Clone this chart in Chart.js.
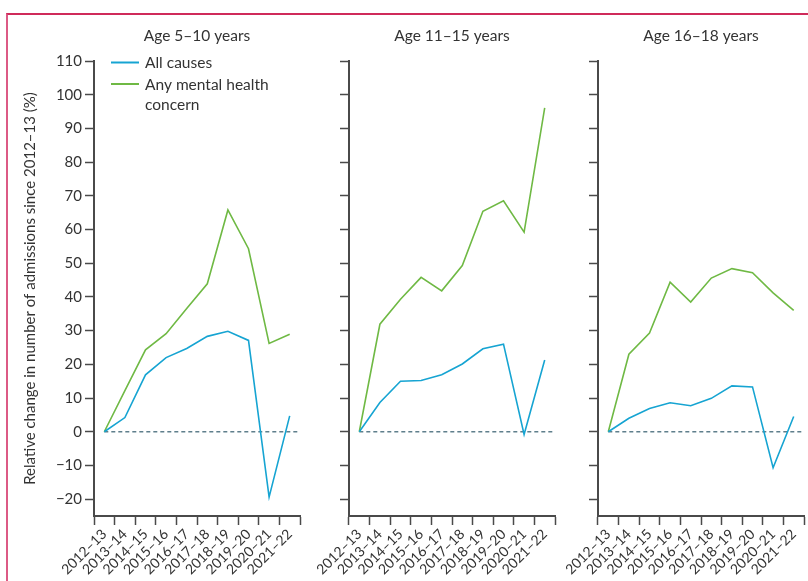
<!DOCTYPE html>
<html>
<head>
<meta charset="utf-8">
<script src="https://cdn.jsdelivr.net/npm/chart.js@4.4.0/dist/chart.umd.min.js"></script>
<style>
  html, body { margin: 0; padding: 0; background: #fff; overflow: hidden; }
  #wrap { position: relative; width: 808px; height: 581px; overflow: hidden; }
  #frame { position: absolute; left: 6px; top: 13px; width: 900px; height: 900px;
           border-top: 2px solid #cf2a5a; border-left: 2px solid #dc5a85; }
  canvas { position: absolute; top: 0; }
</style>
</head>
<body>
<div id="wrap">
  <div id="frame"></div>
  <canvas id="p1" width="320" height="581" style="left:0px"></canvas>
  <canvas id="p2" width="280" height="581" style="left:290px"></canvas>
  <canvas id="p3" width="280" height="581" style="left:545px"></canvas>
</div>
<script>
'use strict';

const years = ['2012–13', '2013–14', '2014–15', '2015–16', '2016–17',
               '2017–18', '2018–19', '2019–20', '2020–21', '2021–22'];
const panelTitles = ['Age 5–10 years', 'Age 11–15 years', 'Age 16–18 years'];
const seriesNames = ['All causes', 'Any mental health concern'];
const yTitle = 'Relative change in number of admissions since 2012–13 (%)';

// relative change (%)
const allCauses5to10 = [0, 4.2, 16.9, 22.0, 24.7, 28.3, 29.8, 27.1, -19.4, 4.7];
const mental5to10    = [0, 12.2, 24.3, 29.1, 36.6, 43.9, 65.8, 54.3, 26.2, 28.9];
const allCauses11to15 = [0, 8.7, 15.0, 15.2, 16.9, 20.1, 24.6, 26.0, -0.8, 21.3];
const mental11to15    = [0, 31.9, 39.3, 45.8, 41.8, 49.3, 65.4, 68.5, 59.2, 96.1];
const allCauses16to18 = [0, 4.0, 6.9, 8.6, 7.7, 9.9, 13.6, 13.3, -10.7, 4.5];
const mental16to18    = [0, 23.0, 29.3, 44.4, 38.5, 45.6, 48.4, 47.2, 41.2, 36.0];

const BLUE = '#16a4d2';
const GREEN = '#6fb944';
const AXIS = '#4a4a4a';
const TEXT = '#333333';
const FONT = 'Lato, "Open Sans", sans-serif';

// panel title centred over the plot area
const panelTitle = {
  id: 'panelTitle',
  afterDraw(chart, args, opts) {
    const ctx = chart.ctx, area = chart.chartArea;
    ctx.save();
    ctx.font = '15.5px ' + FONT;
    ctx.fillStyle = TEXT;
    ctx.textAlign = 'center';
    ctx.textBaseline = 'alphabetic';
    ctx.fillText(opts.text, (area.left + area.right) / 2, 41);
    ctx.restore();
  }
};

// dashed zero reference line
const zeroLine = {
  id: 'zeroLine',
  beforeDatasetsDraw(chart) {
    const ctx = chart.ctx, x = chart.scales.x, y = chart.scales.y;
    const py = y.getPixelForValue(0);
    ctx.save();
    ctx.strokeStyle = '#5f7f8c';
    ctx.lineWidth = 1.5;
    ctx.setLineDash([4, 3]);
    ctx.beginPath();
    ctx.moveTo(x.getPixelForValue(0), py);
    ctx.lineTo(chart.chartArea.right - 2, py);
    ctx.stroke();
    ctx.restore();
  }
};

// legend drawn inside the first panel, wrapping long labels
const innerLegend = {
  id: 'innerLegend',
  afterDraw(chart, args, opts) {
    if (!opts.show) return;
    const ctx = chart.ctx;
    ctx.save();
    ctx.font = '15.5px ' + FONT;
    ctx.textBaseline = 'alphabetic';
    let y = 68;
    chart.data.datasets.forEach(ds => {
      ctx.strokeStyle = ds.borderColor;
      ctx.lineWidth = 2;
      ctx.beginPath();
      ctx.moveTo(111, y - 5.5);
      ctx.lineTo(139, y - 5.5);
      ctx.stroke();
      // wrap words
      const words = ds.label.split(' ');
      let lines = [], cur = '';
      words.forEach(w => {
        const t = cur ? cur + ' ' + w : w;
        if (ctx.measureText(t).width > 130 && cur) { lines.push(cur); cur = w; }
        else cur = t;
      });
      lines.push(cur);
      ctx.fillStyle = TEXT;
      lines.forEach(l => { ctx.fillText(l, 145, y); y += 20; });
      y += 1.5;
    });
    ctx.restore();
  }
};

function makePanel(id, title, blueData, greenData, first, yWidth, padRight) {
  return new Chart(document.getElementById(id), {
    type: 'line',
    data: {
      labels: years,
      datasets: [
        { label: seriesNames[0], data: blueData, borderColor: BLUE, borderWidth: 1.6,
          pointRadius: 0, tension: 0, fill: false },
        { label: seriesNames[1], data: greenData, borderColor: GREEN, borderWidth: 1.6,
          pointRadius: 0, tension: 0, fill: false }
      ]
    },
    options: {
      responsive: false,
      animation: false,
      events: [],
      layout: { padding: { left: 0, right: padRight, top: 61, bottom: 0 } },
      plugins: {
        legend: { display: false },
        title: { display: false },
        tooltip: { enabled: false },
        panelTitle: { text: title },
        innerLegend: { show: first }
      },
      scales: {
        x: {
          type: 'category',
          offset: true,
          grid: { offset: true, drawOnChartArea: false, drawTicks: true, tickLength: 9,
                  color: AXIS, tickWidth: 1.5 },
          border: { color: AXIS, width: 2 },
          ticks: { autoSkip: false, maxRotation: 45, minRotation: 45, padding: 1,
                   color: TEXT, font: { family: FONT, size: 14 } },
          afterFit: s => { s.height = 65; }
        },
        y: {
          min: -25,
          max: 110,
          grid: { drawOnChartArea: false, drawTicks: true, tickLength: 9,
                  color: AXIS, tickWidth: 1.5 },
          border: { color: AXIS, width: 2 },
          ticks: {
            display: first,
            stepSize: 10,
            includeBounds: false,
            padding: 3,
            color: TEXT,
            font: { family: FONT, size: 15 },
            callback: v => v < 0 ? '\u2212' + Math.abs(v) : String(v)
          },
          title: {
            display: first,
            text: yTitle,
            color: TEXT,
            font: { family: FONT, size: 15 },
            padding: { top: 21, bottom: 0 }
          },
          afterFit: s => { s.width = yWidth; }
        }
      }
    },
    plugins: [panelTitle, zeroLine, innerLegend]
  });
}

makePanel('p1', panelTitles[0], allCauses5to10, mental5to10, true, 94, 20);
makePanel('p2', panelTitles[1], allCauses11to15, mental11to15, false, 59, 15);
makePanel('p3', panelTitles[2], allCauses16to18, mental16to18, false, 53, 21);
</script>
</body>
</html>
